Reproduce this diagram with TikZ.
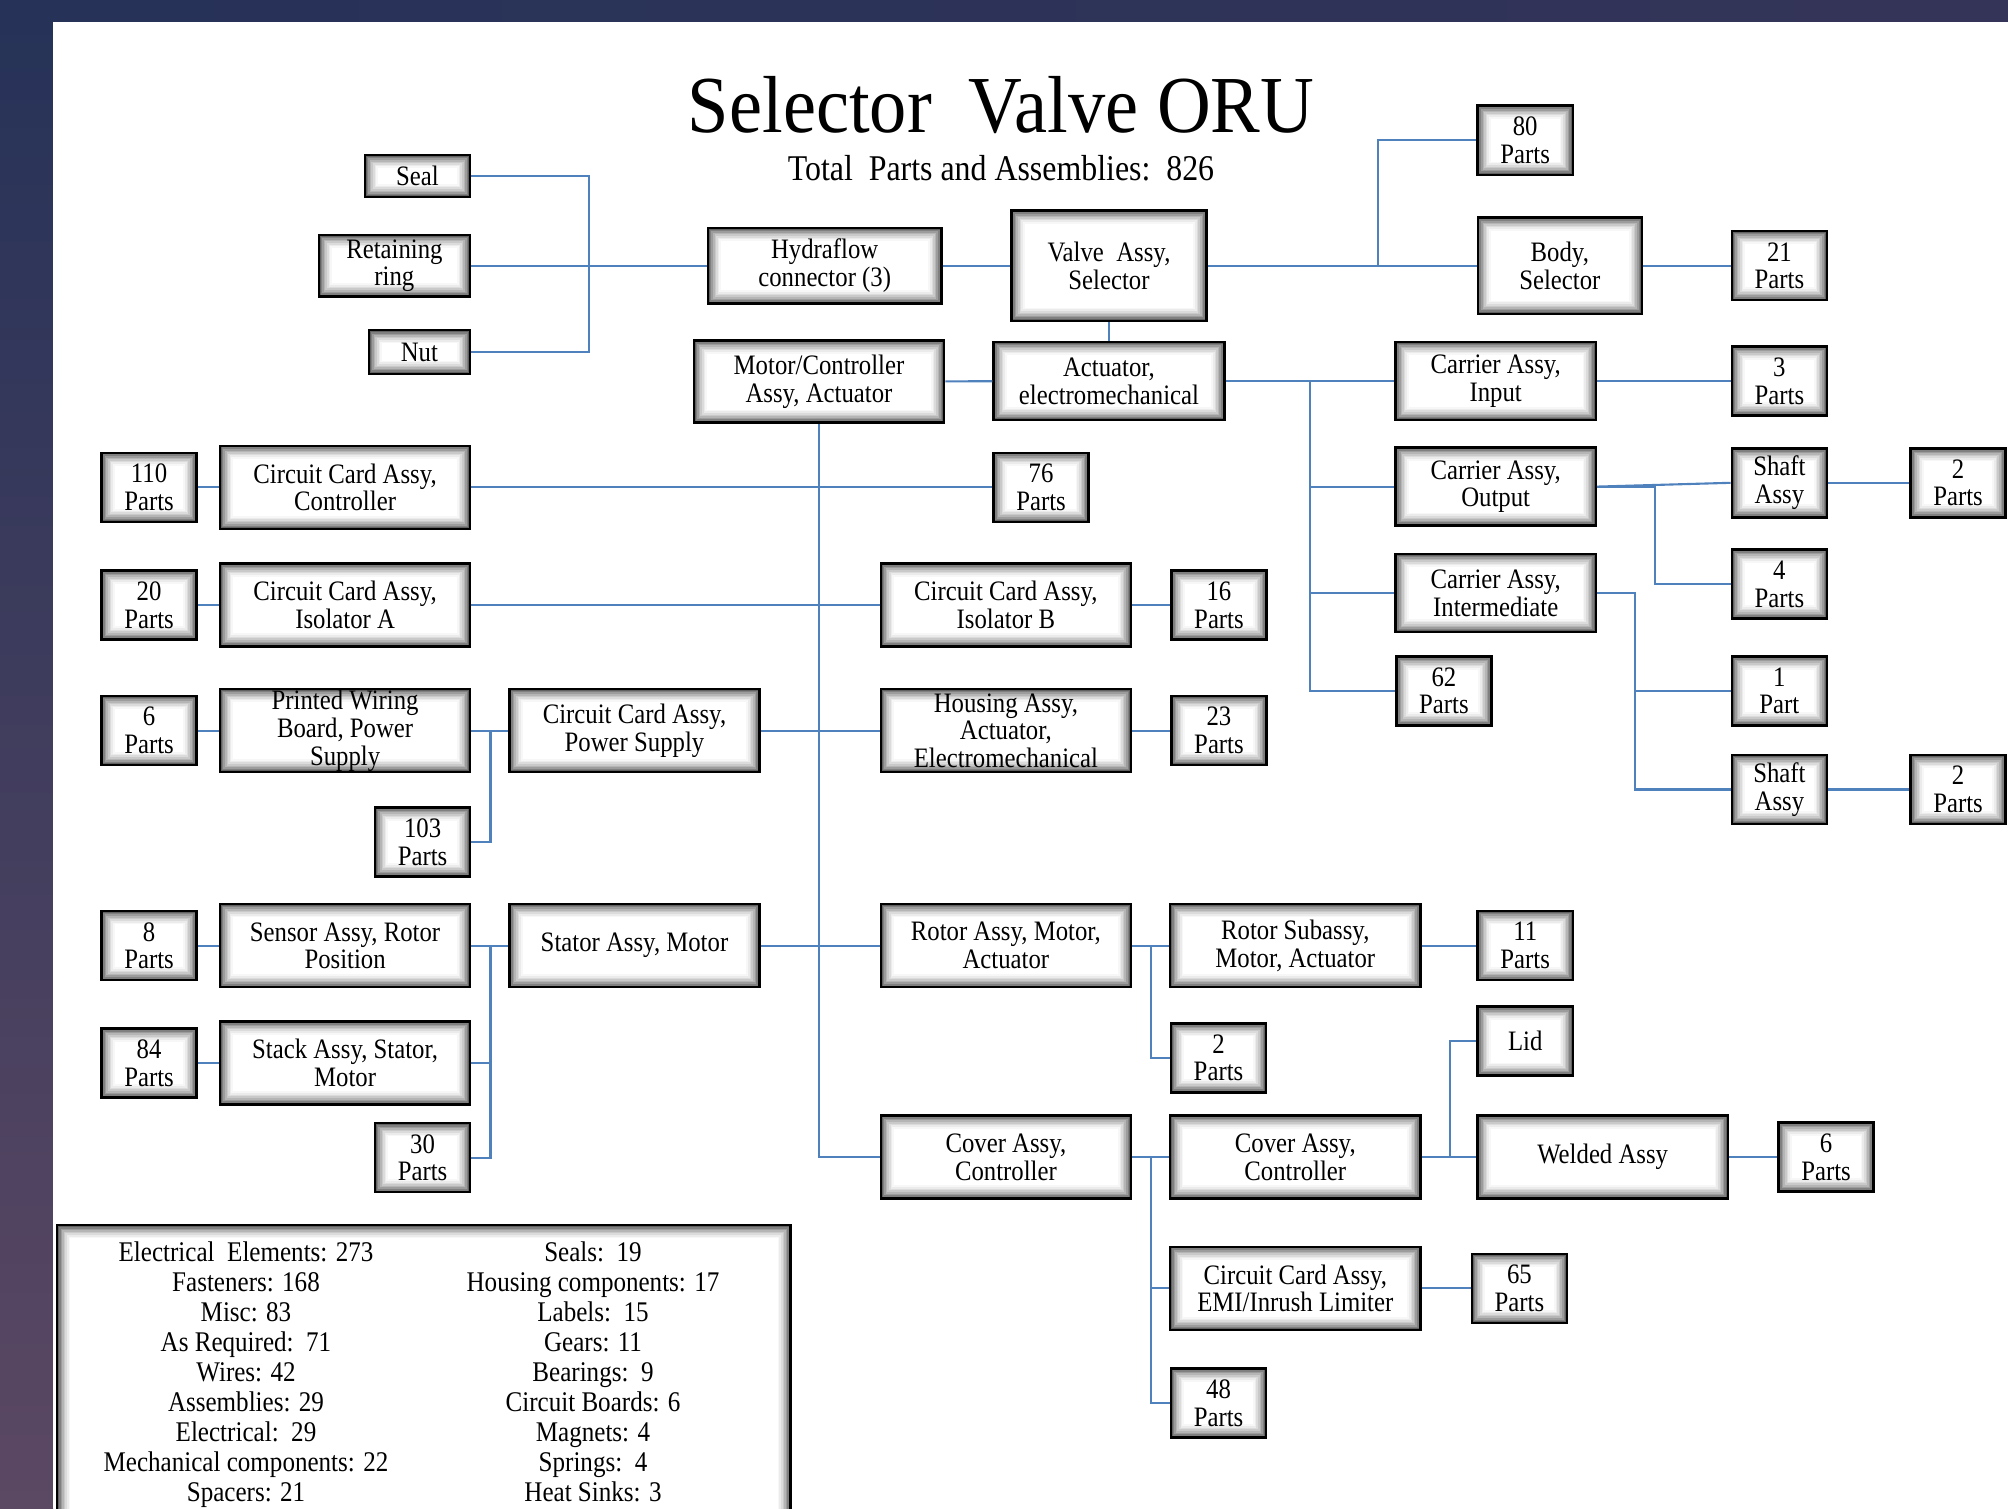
\documentclass[tikz,border=0pt]{standalone}
\usepackage{fontspec}
\setmainfont{Liberation Serif}[FakeStretch=0.88]
\newfontfamily\titlefont{Liberation Serif}[FakeStretch=0.92]
\usetikzlibrary{positioning}

\definecolor{linkblue}{RGB}{79,129,189}
\definecolor{bgnavy}{RGB}{38,50,88}
\definecolor{bgplum}{RGB}{82,58,92}
\definecolor{bgdusk}{RGB}{52,52,88}

\tikzstyle{box} = [rectangle, draw=black, line width=0.7pt, fill=white, inner sep=0pt, align=center, font=\fontsize{8}{7.9}\selectfont,
	path picture={
		\foreach \k/\c in {0/62,1/50,2/39,3/29,4/21,5/14,6/8,7/3}{
			\draw[black!\c, line width=0.18mm]
				([shift={(\k*0.16mm+0.1mm,\k*0.16mm+0.1mm)}]path picture bounding box.south west) rectangle
				([shift={(-\k*0.16mm-0.1mm,-\k*0.16mm-0.1mm)}]path picture bounding box.north east);
		}
	}]
\tikzstyle{assy} = [box, minimum width=2.5cm, minimum height=0.83cm]
\tikzstyle{carrier} = [box, minimum width=2.0cm, minimum height=0.78cm]
\tikzstyle{parts} = [box, minimum width=0.95cm, minimum height=0.69cm]
\tikzstyle{link} = [draw=linkblue, line width=0.6pt]
\tikzstyle{legendtext} = [align=center, font=\fontsize{8.1}{8.54}\selectfont]

\begin{document}
\begin{tikzpicture}[x=0.01cm, y=-0.01cm, node distance = 0.21cm]

	\useasboundingbox (0,0) rectangle (2008,1508);
	\clip (0,0) rectangle (2008,1508);

	% Slide background - - - - - - - - - - - - - - - - - - - - - - - - - - - -
	\shade[left color=bgnavy, middle color=bgplum, right color=bgdusk] (0,0) rectangle (2008,22);
	\shade[top color=bgnavy, bottom color=bgplum!80!gray] (0,0) rectangle (53,1508);
	\fill[white] (53,22) rectangle (2008,1508);

	% Title - - - - - - - - - - - - - - - - - - - - - - - - - - - - - - - - - -
	\node(title) at (1001,105) {\titlefont\fontsize{23}{25}\selectfont Selector\ \ Valve ORU};
	\node(total) at (1001,168) {\fontsize{10.3}{12}\selectfont Total\ \ Parts and Assemblies:\ \ 826};

	% Valve nodes - - - - - - - - - - - - - - - - - - - - - - - - - - - - - - -
	\node(seal) [box, minimum width=1.05cm, minimum height=0.42cm] at (417.5,176) {Seal};
	\node(ring) [box, minimum width=1.51cm, minimum height=0.615cm] at (394.4,265.7) {Retaining\\ring};
	\node(nut) [box, minimum width=1.01cm, minimum height=0.435cm] at (419.4,352) {Nut};
	\node(hydra) [box, minimum width=2.33cm, minimum height=0.756cm] at (824.7,265.7) {Hydraflow\\connector (3)};
	\node(valve) [box, minimum width=1.95cm, minimum height=1.10cm] at (1109,265.7) {Valve\ \ Assy,\\Selector};
	\node(p80) [parts] at (1525.2,140.2) {80\\Parts};
	\node(body) [box, minimum width=1.64cm, minimum height=0.96cm] at (1559.8,265.7) {Body,\\Selector};
	\node(p21) [parts] at (1779.4,265.7) {21\\Parts};

	% Actuator nodes - - - - - - - - - - - - - - - - - - - - - - - - - - - - - -
	\node(motor) [assy, minimum height=0.82cm] at (819,381.6) {Motor/Controller\\Assy, Actuator};
	\node(actu) [box, minimum width=2.305cm, minimum height=0.78cm] at (1109,381) {Actuator,\\electromechanical};
	\node(cin) [carrier] at (1495.7,381) {Carrier Assy,\\Input};
	\node(p3) [parts] at (1779.4,381) {3\\Parts};
	\node(cout) [carrier] at (1495.7,486.6) {Carrier Assy,\\Output};
	\node(shafta) [parts] at (1779.4,482.8) {Shaft\\Assy};
	\node(p2a) [parts] at (1958,482.8) {2\\Parts};
	\node(p4) [parts] at (1779.4,584) {4\\Parts};
	\node(cint) [carrier] at (1495.7,593) {Carrier Assy,\\Intermediate};
	\node(p62) [parts] at (1443.9,690.9) {62\\Parts};
	\node(p1) [parts] at (1779.4,690.9) {1\\Part};
	\node(shaftb) [parts] at (1779.4,789.5) {Shaft\\Assy};
	\node(p2b) [parts] at (1958,789.5) {2\\Parts};

	% Controller nodes - - - - - - - - - - - - - - - - - - - - - - - - - - - - -
	\node(ccactl) [assy] at (345.1,487.3) {Circuit Card Assy,\\Controller};
	\node(p110) [parts, left= of ccactl] {110\\Parts};
	\node(p76) [parts] at (1041.1,487.3) {76\\Parts};
	\node(isoa) [assy] at (345.1,605) {Circuit Card Assy,\\Isolator A};
	\node(p20) [parts, left= of isoa] {20\\Parts};
	\node(isob) [assy] at (1005.9,605) {Circuit Card Assy,\\Isolator B};
	\node(p16) [parts, right=0.38cm of isob] {16\\Parts};
	\node(pwb) [assy, label={[font=\fontsize{8}{7.9}\selectfont, align=center]center:{Printed Wiring\\Board, Power\\Supply}}] at (345.1,730.6) {};
	\node(p6) [parts, left= of pwb] {6\\Parts};
	\node(ccaps) [assy] at (634.5,730.6) {Circuit Card Assy,\\Power Supply};
	\node(housing) [assy, label={[font=\fontsize{8}{7.9}\selectfont, align=center]center:{Housing Assy,\\Actuator,\\Electromechanical}}] at (1005.9,730.6) {};
	\node(p23) [parts, right=0.38cm of housing] {23\\Parts};
	\node(p103) [parts] at (422.6,842) {103\\Parts};

	% Motor nodes - - - - - - - - - - - - - - - - - - - - - - - - - - - - - - -
	\node(sensor) [assy] at (345.1,945.7) {Sensor Assy, Rotor\\Position};
	\node(p8) [parts, left= of sensor] {8\\Parts};
	\node(stator) [assy] at (634.5,945.7) {Stator Assy, Motor};
	\node(rotor) [assy] at (1005.9,945.7) {Rotor Assy, Motor,\\Actuator};
	\node(rotorsub) [assy] at (1295.3,945.7) {Rotor Subassy,\\Motor, Actuator};
	\node(p11) [parts] at (1525.2,945.7) {11\\Parts};
	\node(stack) [assy] at (345.1,1062.9) {Stack Assy, Stator,\\Motor};
	\node(p84) [parts, left= of stack] {84\\Parts};
	\node(p2c) [parts] at (1218.5,1057.8) {2\\Parts};
	\node(p30) [parts] at (422.6,1157.7) {30\\Parts};

	% Cover nodes - - - - - - - - - - - - - - - - - - - - - - - - - - - - - - -
	\node(lid) [parts] at (1525.2,1041.1) {Lid};
	\node(cover) [assy] at (1005.9,1157) {Cover Assy,\\Controller};
	\node(coverc) [assy] at (1295.3,1157) {Cover Assy,\\Controller};
	\node(welded) [assy] at (1602.7,1157) {Welded Assy};
	\node(p6w) [parts] at (1826.1,1157) {6\\Parts};
	\node(emi) [assy] at (1295.3,1288.3) {Circuit Card Assy,\\EMI/Inrush Limiter};
	\node(p65) [parts] at (1519.4,1288.3) {65\\Parts};
	\node(p48) [parts] at (1218.5,1402.9) {48\\Parts};

	% Legend - - - - - - - - - - - - - - - - - - - - - - - - - - - - - - - - -
	\node(legend) [box, anchor=north west, minimum width=7.33cm, minimum height=3.2cm] at (56,1224) {};
	\node(legl) [legendtext, anchor=north] at (246,1229)
		{Electrical\ \ Elements: 273\\Fasteners: 168\\Misc: 83\\As Required:\ \ 71\\Wires: 42\\
		 Assemblies: 29\\Electrical:\ \ 29\\Mechanical components: 22\\Spacers: 21};
	\node(legr) [legendtext, anchor=north] at (593,1229)
		{Seals:\ \ 19\\Housing components: 17\\Labels:\ \ 15\\Gears: 11\\Bearings:\ \ 9\\
		 Circuit Boards: 6\\Magnets: 4\\Springs:\ \ 4\\Heat Sinks: 3};

	% Valve links - - - - - - - - - - - - - - - - - - - - - - - - - - - - - - -
	\coordinate(jseal) at (589,265.7);
	\draw[link](seal.east) -| (jseal) |- (nut.east);
	\draw[link](ring)--(hydra);
	\draw[link](hydra)--(valve);
	\coordinate(jvalve) at (1378,265.7);
	\draw[link](valve)--(body);
	\draw[link](jvalve) |- (p80.west);
	\draw[link](body)--(p21);
	\draw[link](valve)--(actu);

	% Actuator links - - - - - - - - - - - - - - - - - - - - - - - - - - - - - -
	\draw[link](motor)--(actu);
	\draw[link](actu)--(cin);
	\coordinate(jact) at (1310,381);
	\draw[link](jact) |- (p62.west);
	\draw[link](jact |- cout.west)--(cout.west);
	\draw[link](jact |- cint.west)--(cint.west);
	\draw[link](cin)--(p3);
	\draw[link](cout.east)--(shafta.west);
	\coordinate(jout) at (1654.6,486.6);
	\draw[link](cout.east)--(jout) |- (p4.west);
	\draw[link](shafta)--(p2a);
	\coordinate(jint) at (1635.3,593);
	\draw[link](cint.east)--(jint) |- (shaftb.west);
	\draw[link](jint |- p1.west)--(p1.west);
	\draw[link](shaftb)--(p2b);

	% Controller links - - - - - - - - - - - - - - - - - - - - - - - - - - - - -
	\draw[link](motor.south) |- (cover.west);
	\draw[link](p110)--(ccactl);
	\draw[link](ccactl)--(p76);
	\draw[link](p20)--(isoa);
	\draw[link](isoa)--(isob);
	\draw[link](isob)--(p16);
	\draw[link](p6)--(pwb);
	\draw[link](pwb)--(ccaps);
	\draw[link](ccaps)--(housing);
	\draw[link](housing)--(p23);
	\coordinate(jpwb) at (490.5,730.6);
	\draw[link](jpwb) |- (p103.east);

	% Motor links - - - - - - - - - - - - - - - - - - - - - - - - - - - - - - -
	\draw[link](p8)--(sensor);
	\draw[link](sensor)--(stator);
	\draw[link](stator)--(rotor);
	\draw[link](rotor)--(rotorsub);
	\draw[link](rotorsub)--(p11);
	\draw[link](p84)--(stack);
	\coordinate(jsens) at (490.5,945.7);
	\draw[link](jsens) |- (p30.east);
	\draw[link](jsens |- stack.east)--(stack.east);
	\coordinate(jrot) at (1151.3,945.7);
	\draw[link](jrot) |- (p2c.west);

	% Cover links - - - - - - - - - - - - - - - - - - - - - - - - - - - - - - -
	\draw[link](cover)--(coverc);
	\coordinate(jcov) at (1151.3,1157);
	\draw[link](jcov) |- (p48.west);
	\draw[link](jcov |- emi.west)--(emi.west);
	\draw[link](coverc)--(welded);
	\coordinate(jlid) at (1449.7,1157);
	\draw[link](jlid) |- (lid.west);
	\draw[link](welded)--(p6w);
	\draw[link](emi)--(p65);

\end{tikzpicture}
\end{document}
